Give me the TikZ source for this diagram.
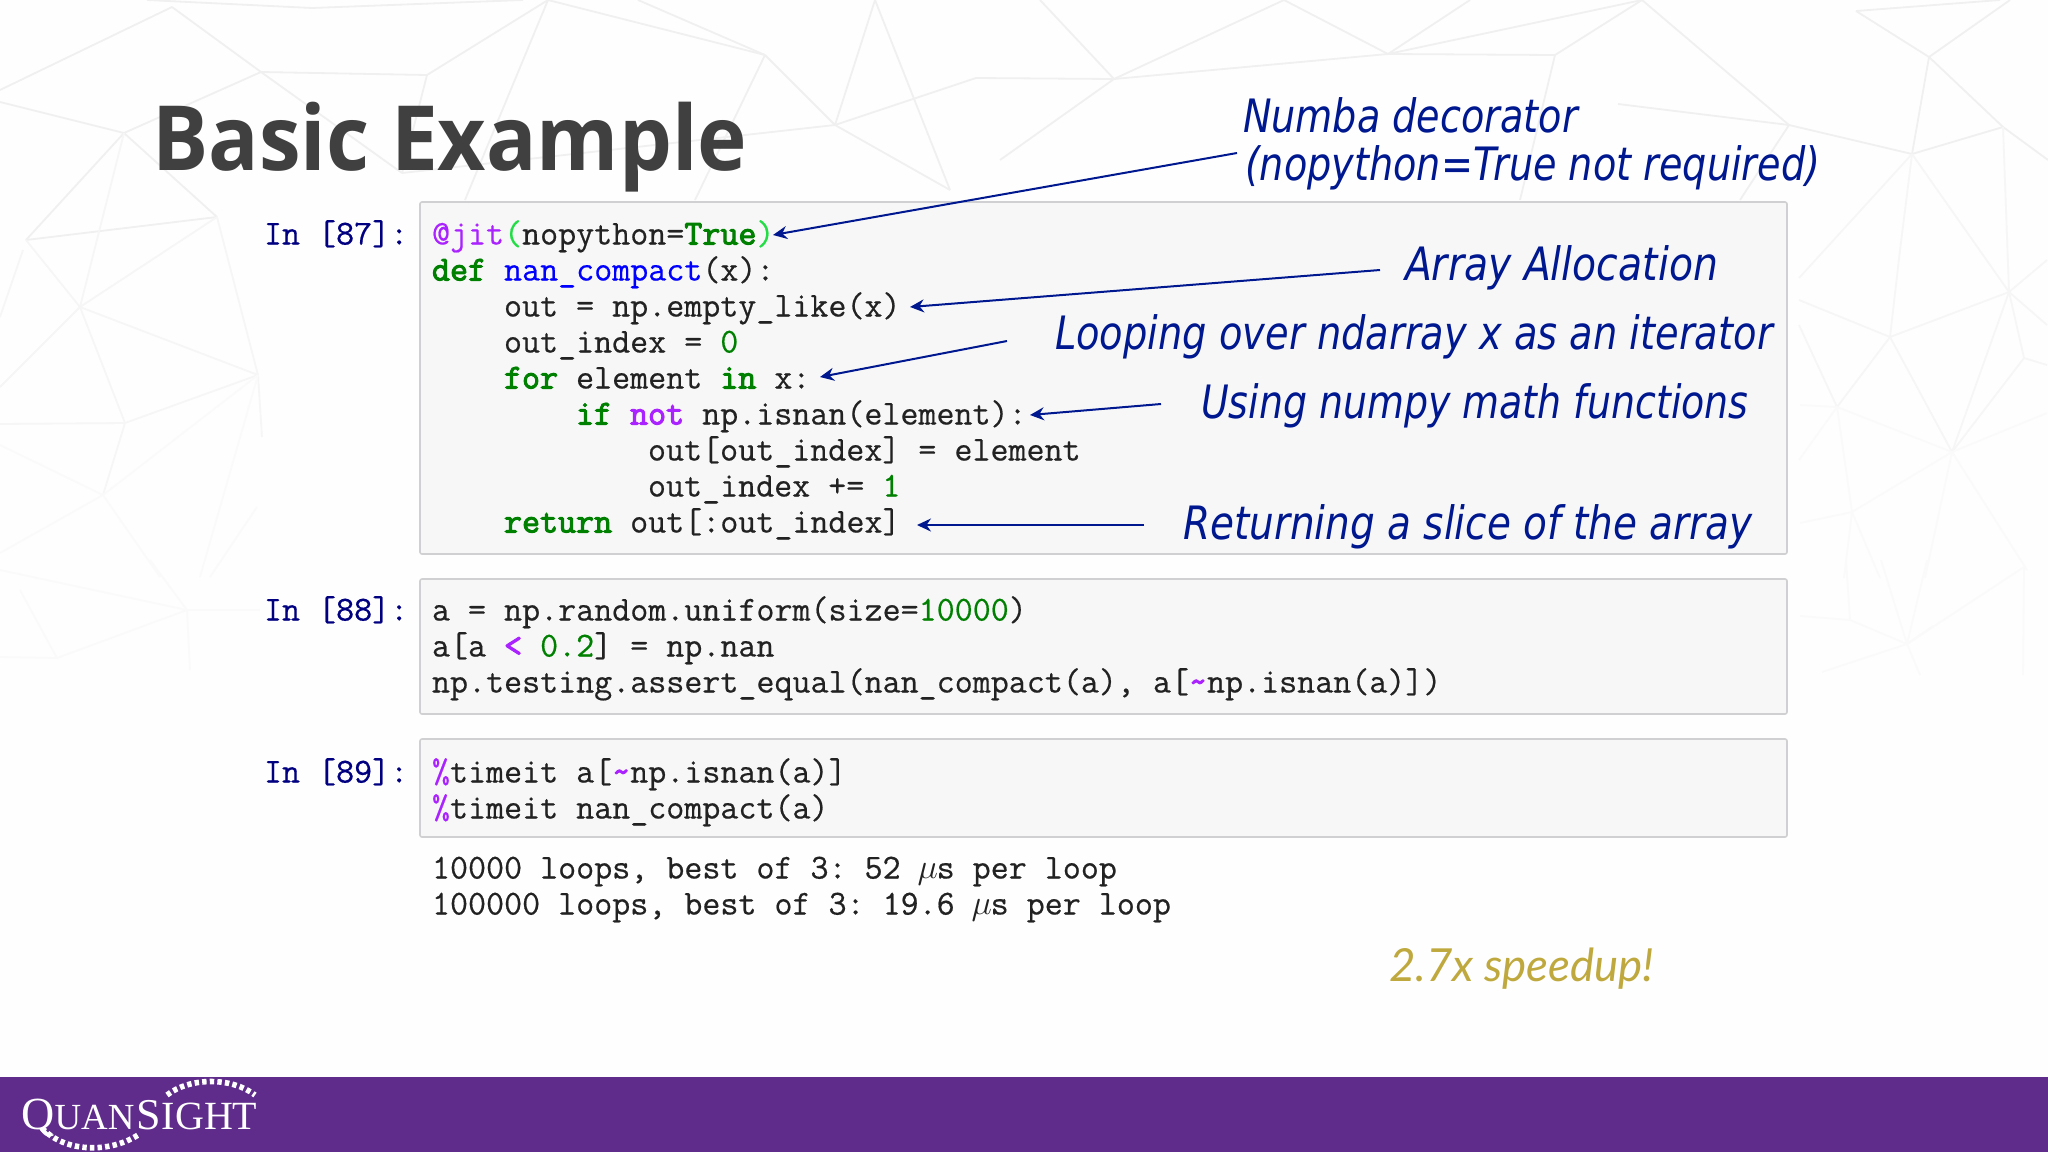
\documentclass[tikz,border=0pt]{standalone}
\usepackage{fontspec}
\usetikzlibrary{arrows.meta}
\setmainfont{Liberation Serif}
\newfontfamily\cf[FakeBold=0.5]{Latin Modern Mono}
\newfontfamily\cfb[FakeBold=2.8]{Latin Modern Mono}
\newfontfamily\annofont[FakeStretch=0.83]{DejaVu Sans Oblique}
\newfontfamily\speedfont{Lato Italic}
\newfontfamily\titlefont[FakeStretch=0.93]{Open Sans}
\definecolor{kwgreen}{HTML}{008000}
\definecolor{magic}{HTML}{AA22FF}
\definecolor{brk}{HTML}{22DD44}
\definecolor{fnblue}{HTML}{0000FF}
\definecolor{promptc}{HTML}{000080}
\definecolor{codec}{HTML}{222222}
\definecolor{anno}{HTML}{00188F}
\definecolor{gold}{HTML}{BFA93E}
\definecolor{band}{HTML}{5F2C8B}
\definecolor{titlec}{HTML}{404040}
\definecolor{boxfill}{HTML}{F7F7F8}
\definecolor{boxline}{HTML}{D0D0D3}
\definecolor{neta}{HTML}{F0F0F0}
\definecolor{netb}{HTML}{F6F6F6}
\definecolor{netc}{HTML}{FAFAFA}
\definecolor{pagebg}{HTML}{FEFEFE}
\newcommand\kw[1]{{\cfb\textcolor{kwgreen}{#1}}}
\newcommand\num[1]{\textcolor{kwgreen}{#1}}
\newcommand\mg[1]{{\cfb\textcolor{magic}{#1}}}
\newcommand\pct{\textcolor{magic}{\%}}
\newcommand\us{\_}
\newcommand\muchar{\makebox[9pt]{$\mu$}}
\tikzset{
  codeline/.style={anchor=base west,inner sep=0pt,outer sep=0pt,text=codec,font=\fontsize{17.5}{18}\selectfont\frenchspacing\cf},
  promptline/.style={codeline,text=promptc},
  annotext/.style={anchor=base west,inner sep=0pt,outer sep=0pt,text=anno,font=\fontsize{23}{26}\selectfont\annofont},
  cellbox/.style={draw=boxline,fill=boxfill,line width=0.8pt,rounded corners=1pt},
  callout/.style={draw=anno,line width=1pt,-{Stealth[length=7pt,width=6.5pt]}},
}
\begin{document}
\begin{tikzpicture}[x=0.5pt,y=-0.5pt]
\useasboundingbox (0,0) rectangle (2048,1152);
\fill[pagebg] (0,0) rectangle (2048,1152);
% background mesh
\begin{scope}
\clip (0,0) rectangle (2048,700);
\foreach \a/\b/\c/\d in {
172/7/261/72, 172/7/0/90, 261/72/427/75, 261/72/124/133, 548/0/427/75, 548/0/465/200,
548/0/765/55, 638/0/765/55, 765/55/835/125, 835/125/976/78, 976/78/1114/79, 765/55/695/200,
875/0/835/125, 875/0/950/190, 835/125/950/190, 0/102/124/133, 124/133/217/217, 217/217/26/240,
124/133/26/240, 261/72/402/173, 427/75/402/173, 402/173/835/125,
147/0/312/8, 312/8/523/0,
1114/79/1388/54, 1114/79/1040/0, 1114/79/1000/160, 1388/54/1284/0, 1284/0/1114/79,
1388/54/1555/55, 1388/54/1642/0, 1642/0/1555/55, 1388/54/1470/0, 1555/55/1520/200,
1618/104/1789/125, 1789/125/1912/154, 1912/154/2003/127, 2003/127/1929/57, 1929/57/1856/11, 1856/11/2000/0,
1929/57/1912/154, 1929/57/2010/0, 1642/0/1789/125, 1789/125/1740/200, 2003/127/2048/160}
  {\draw[neta,line width=0.9pt] (\a,\b) -- (\c,\d);}
\foreach \a/\b/\c/\d in {
26/240/80/307, 124/133/80/307, 217/217/80/307, 80/307/0/387, 80/307/258/375, 80/307/125/423,
217/217/258/375, 258/375/125/423, 125/423/0/424, 125/423/103/495, 23/250/0/317, 258/375/262/437,
1890/337/2009/292, 1900/250/1890/337, 1912/154/1900/250, 1890/337/1799/300, 1890/337/1837/407, 1890/337/1952/452,
1912/154/2009/292, 2003/127/2009/292, 2009/292/2047/260, 2009/292/2047/325, 2009/292/2024/358, 2009/292/1952/452,
2024/358/1952/452, 2024/358/2047/365, 1912/154/1799/278, 1837/407/1799/325}
  {\draw[netb,line width=0.9pt] (\a,\b) -- (\c,\d);}
\foreach \a/\b/\c/\d in {
258/375/103/495, 258/375/200/577, 103/495/0/553, 103/495/0/445, 103/495/160/577, 257/507/210/577,
1952/452/1837/407, 1952/452/2047/413, 1952/452/1852/512, 1952/452/1925/578, 1837/407/1800/405, 1837/407/1799/460,
1837/407/1852/512, 1852/512/1800/523, 1852/512/1844/578, 1852/512/1880/578, 1952/452/2027/570,
187/610/57/658, 187/610/0/570, 187/610/260/610, 187/610/150/560, 187/610/190/670, 57/658/0/657, 57/658/20/590,
1907/644/1822/672, 1907/644/1850/620, 1907/644/2024/567, 1907/644/1933/626, 1907/644/1920/675, 1907/644/1881/560,
1907/644/1927/560, 1850/620/1800/616, 1850/620/1846/560, 2024/567/2023/675}
  {\draw[netc,line width=0.9pt] (\a,\b) -- (\c,\d);}
\end{scope}
% title
\node[anchor=base west,inner sep=0pt,text=titlec,font=\fontsize{45}{50}\selectfont\titlefont\bfseries] (title) at (152,170) {Basic Example};
% cells
\path[cellbox] (420,202) rectangle (1787,554);
\path[cellbox] (420,579) rectangle (1787,714);
\path[cellbox] (420,739) rectangle (1787,837);
% prompts
\node[promptline] (p87) at (264,244.5) {In [87]:};
\node[promptline] (p88) at (264,620.5) {In [88]:};
\node[promptline] (p89) at (264,782.5) {In [89]:};
% cell 87
\node[codeline] (c1) at (432,244.5) {\textcolor{magic}{@jit}\textcolor{brk}{(}nopython=\kw{True}\textcolor{brk}{)}};
\node[codeline] (c2) at (432,280.5) {\kw{def} \textcolor{fnblue}{nan\us compact}(x):};
\node[codeline] (c3) at (504,316.5) {out = np.empty\us like(x)};
\node[codeline] (c4) at (504,352.5) {out\us index = \num{0}};
\node[codeline] (c5) at (504,388.5) {\kw{for} element \kw{in} x:};
\node[codeline] (c6) at (576,424.5) {\kw{if} \mg{not} np.isnan(element):};
\node[codeline] (c7) at (648,460.5) {out[out\us index] = element};
\node[codeline] (c8) at (648,496.5) {out\us index += \num{1}};
\node[codeline] (c9) at (504,532.5) {\kw{return} out[:out\us index]};
% cell 88
\node[codeline] (d1) at (432,620.5) {a = np.random.uniform(size=\num{10000})};
\node[codeline] (d2) at (432,656.5) {a[a \mg{<} \num{0.2}] = np.nan};
\node[codeline] (d3) at (432,692.5) {np.testing.assert\us equal(nan\us compact(a), a[\mg{\string~}np.isnan(a)])};
% cell 89
\node[codeline] (e1) at (432,782.5) {\pct timeit a[\mg{\string~}np.isnan(a)]};
\node[codeline] (e2) at (432,818.5) {\pct timeit nan\us compact(a)};
\node[codeline] (o1) at (432,878.5) {10000 loops, best of 3: 52 \muchar s per loop};
\node[codeline] (o2) at (432,914.5) {100000 loops, best of 3: 19.6 \muchar s per loop};
% annotations
\node[annotext] (a1) at (1243,132) {Numba decorator};
\node[annotext] (a1b) at (1245,180) {(nopython=True not required)};
\node[annotext] (a2) at (1405,280) {\scalebox{1.03}[1]{Array Allocation}};
\node[annotext] (a3) at (1055,349) {\scalebox{1.005}[1]{Looping over ndarray x as an iterator}};
\node[annotext] (a4) at (1201,418) {\scalebox{0.993}[1]{Using numpy math functions}};
\node[annotext] (a5) at (1183,539) {\scalebox{1.021}[1]{Returning a slice of the array}};
\node[anchor=base west,inner sep=0pt,outer sep=0pt,text=gold,font=\fontsize{22.8}{26}\selectfont\speedfont] (speed) at (1389,981) {2.7x speedup!};
% connectors
\coordinate (f1) at (1237,153); \coordinate (t1) at (773,235);
\coordinate (f2) at (1380,270); \coordinate (t2) at (910,307);
\coordinate (f3) at (1007,341); \coordinate (t3) at (820,377);
\coordinate (f4) at (1161,404); \coordinate (t4) at (1030,415);
\coordinate (f5) at (1144,525); \coordinate (t5) at (917,525);
\draw[callout] (f1) -- (t1);
\draw[callout] (f2) -- (t2);
\draw[callout] (f3) -- (t3);
\draw[callout] (f4) -- (t4);
\draw[callout] (f5) -- (t5);
% footer
\fill[band] (0,1077) rectangle (2048,1152);
\node[anchor=base west,inner sep=0pt,text=white] (logo) at (21,1129)
  {\fontsize{23}{24}\selectfont Q\fontsize{18.4}{24}\selectfont UAN\hspace{1pt}\fontsize{22}{24}\selectfont S\hspace{0.5pt}\fontsize{20}{24}\selectfont IGHT};
\draw[white,line width=2.8pt,dash pattern=on 2.2pt off 1.6pt] (167,1095) .. controls (190,1077) and (232,1077) .. (255,1095);
\draw[white,line width=2.8pt,dash pattern=on 2.2pt off 1.6pt] (42,1128) .. controls (65,1153) and (110,1153) .. (138,1135);
\end{tikzpicture}
\end{document}
